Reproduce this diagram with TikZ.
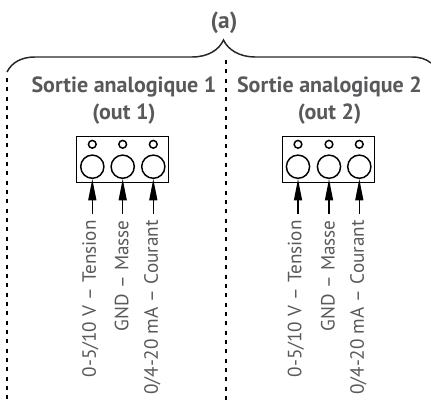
\documentclass[tikz,border=0pt]{standalone}
\usepackage{fontspec}
\setmainfont{PT Sans}
\usetikzlibrary{arrows.meta}
\definecolor{txt}{HTML}{58595B}
\tikzset{
  x=0.75pt,y=-0.75pt,
  blk/.style={draw=black,line width=1.1pt},
  head/.style={text=txt,font=\fontsize{16.5}{20}\selectfont\bfseries,align=center,inner sep=0pt},
  vlab/.style={text=txt,font=\fontsize{14.4}{16}\selectfont,rotate=90,anchor=east,inner sep=0pt},
  dashline/.style={draw=black,line width=1pt,dash pattern=on 3pt off 4pt},
  arr/.style={draw=black,line width=0.9pt,-{Triangle[length=16pt,width=6pt]}}
}
\newcommand{\terminal}[5]{% name, box left, c1, c2, c3
  \node[blk,minimum width=69pt,minimum height=34.5pt,inner sep=0pt,anchor=north west] (#1box) at (#2,136) {};
  \foreach \n/\cx in {1/#3,2/#4,3/#5}{
    \node[blk,circle,minimum size=17.4pt,inner sep=0pt] (#1c\n) at (\cx,166.7) {};
    \node[blk,circle,minimum size=5.8pt,inner sep=0pt] (#1s\n) at (\cx,144.3) {};
    \coordinate (#1e\n) at (\cx,214);
    \draw[arr] (#1e\n) -- (#1c\n.south);
  }
  \node[vlab] (#1a) at (#3-2,220) {0-5/10 V -- Tension};
  \node[vlab] (#1b) at (#4-1,220) {GND -- Masse};
  \node[vlab] (#1d) at (#5-1,220) {0/4-20 mA -- Courant};
}
\begin{document}
\begin{tikzpicture}
\useasboundingbox (0,0) rectangle (431,403);
\node[text=txt,font=\fontsize{17.5}{18}\selectfont\bfseries,inner sep=0pt] (a) at (224,23) {(a)};
\coordinate (d1t) at (7,78); \coordinate (d1b) at (7,403);
\coordinate (d2t) at (226,60); \coordinate (d2b) at (226,403);
\draw[dashline] (d1t) -- (d1b);
\draw[dashline] (d2t) -- (d2b);
\coordinate (bl) at (7,72); \coordinate (bm) at (223.5,40); \coordinate (br) at (431,63);
\draw[black!85,line width=1.1pt] (bl) .. controls (12,62) and (22,57) .. (35,57) -- (192,57)
  .. controls (208,57) and (219,50) .. (bm)
  .. controls (228,50) and (240,57) .. (255,57) -- (412,57) .. controls (420,57) and (426,59) .. (br);
\node[head] (h1) at (124,100.5) {Sortie analogique 1\\(out 1)};
\node[head] (h2) at (329.5,100.5) {Sortie analogique 2\\(out 2)};
\terminal{l}{76}{92.3}{122.7}{153.3}
\terminal{r}{282}{298}{329}{359.3}
\end{tikzpicture}
\end{document}
